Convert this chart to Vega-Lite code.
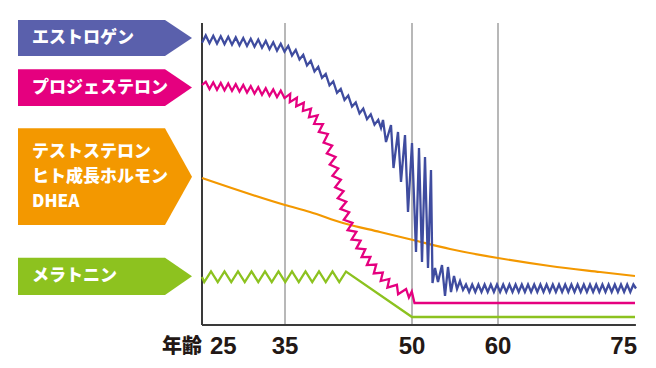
{
  "$schema": "https://vega.github.io/schema/vega-lite/v6.json",
  "padding": {"left": 0, "top": 15, "right": 0, "bottom": 0},
  "background": "white",
  "spacing": 0,
  "bounds": "flush",
  "config": {"view": {"stroke": null}},
  "datasets": {
    "boxes": [
      {"name": "エストロゲン", "bx": 18, "top": 305, "bottom": 269},
      {"name": "エストロゲン", "bx": 165, "top": 305, "bottom": 269},
      {"name": "エストロゲン", "bx": 192, "top": 287, "bottom": 287},
      {"name": "プロジェステロン", "bx": 18, "top": 255.7, "bottom": 219},
      {"name": "プロジェステロン", "bx": 165, "top": 255.7, "bottom": 219},
      {"name": "プロジェステロン", "bx": 192, "top": 237.4, "bottom": 237.4},
      {"name": "テストステロン・ヒト成長ホルモン・DHEA", "bx": 18, "top": 196.7, "bottom": 100},
      {"name": "テストステロン・ヒト成長ホルモン・DHEA", "bx": 165, "top": 196.7, "bottom": 100},
      {"name": "テストステロン・ヒト成長ホルモン・DHEA", "bx": 192, "top": 148.3, "bottom": 148.3},
      {"name": "メラトニン", "bx": 18, "top": 67.3, "bottom": 30},
      {"name": "メラトニン", "bx": 165, "top": 67.3, "bottom": 30},
      {"name": "メラトニン", "bx": 192, "top": 48.7, "bottom": 48.7}
    ],
    "labels": [
      {"text": "エストロゲン", "level": 287},
      {"text": "プロジェステロン", "level": 237.4},
      {"text": "テストステロン", "level": 173.5},
      {"text": "ヒト成長ホルモン", "level": 148.5},
      {"text": "DHEA", "level": 123.5},
      {"text": "メラトニン", "level": 49.5}
    ],
    "ticks": [
      {"age": 25, "t": "25"}, {"age": 35, "t": "35"}, {"age": 50, "t": "50"}, {"age": 60, "t": "60"}, {"age": 75, "t": "75"}
    ],
    "estrogen": [
      {"age":25.000,"level":282.2},{"age":25.452,"level":289.6},{"age":25.904,"level":281.8},{"age":26.355,"level":289.2},{"age":26.807,"level":281.4},{"age":27.259,"level":288.7},{"age":27.711,"level":280.9},{"age":28.163,"level":288.2},{"age":28.614,"level":280.3},{"age":29.066,"level":287.6},{"age":29.518,"level":279.7},{"age":29.970,"level":287.0},{"age":30.422,"level":279.0},{"age":30.873,"level":286.2},{"age":31.325,"level":278.3},{"age":31.777,"level":285.5},{"age":32.229,"level":277.3},{"age":32.681,"level":284.1},{"age":33.133,"level":275.8},{"age":33.584,"level":282.7},{"age":34.036,"level":274.4},{"age":34.488,"level":281.3},{"age":34.940,"level":273.3},{"age":35.384,"level":279.1},{"age":35.827,"level":269.5},{"age":36.270,"level":275.1},{"age":36.713,"level":265.5},{"age":37.155,"level":270.2},{"age":37.598,"level":259.6},{"age":38.041,"level":264.2},{"age":38.484,"level":253.6},{"age":38.927,"level":258.2},{"age":39.370,"level":247.2},{"age":39.813,"level":251.0},{"age":40.256,"level":239.7},{"age":40.699,"level":243.5},{"age":41.142,"level":232.2},{"age":41.585,"level":236.1},{"age":42.028,"level":225.1},{"age":42.470,"level":229.4},{"age":42.913,"level":218.4},{"age":43.356,"level":222.6},{"age":43.799,"level":211.6},{"age":44.242,"level":216.4},{"age":44.685,"level":205.9},{"age":45.128,"level":210.7},{"age":45.571,"level":200.3},{"age":46.014,"level":205.1},
      {"age":46.339,"level":197},{"age":46.575,"level":205},{"age":46.929,"level":183},{"age":47.520,"level":200},{"age":47.815,"level":157},{"age":48.346,"level":193},{"age":48.701,"level":143},{"age":49.173,"level":190},{"age":49.528,"level":113},{"age":50.000,"level":182},{"age":50.465,"level":73},{"age":50.814,"level":177},{"age":51.163,"level":63},{"age":51.512,"level":168},{"age":51.860,"level":57},{"age":52.209,"level":155},{"age":52.384,"level":42},{"age":52.674,"level":57},{"age":53.023,"level":43},{"age":53.488,"level":60},{"age":53.837,"level":29},{"age":54.186,"level":58},{"age":54.535,"level":33},{"age":54.884,"level":49},{"age":55.233,"level":36},{"age":55.581,"level":44},{"age":55.930,"level":35},
      {"age":56.279,"level":40.5},{"age":56.640,"level":33},{"age":57.000,"level":40.5},{"age":57.361,"level":33},{"age":57.721,"level":40.5},{"age":58.081,"level":33},{"age":58.442,"level":40.5},{"age":58.802,"level":33},{"age":59.163,"level":40.5},{"age":59.523,"level":33},{"age":59.884,"level":40.5},{"age":60.230,"level":33},{"age":60.569,"level":40.5},{"age":60.909,"level":33},{"age":61.248,"level":40.5},{"age":61.588,"level":33},{"age":61.927,"level":40.5},{"age":62.266,"level":33},{"age":62.606,"level":40.5},{"age":62.945,"level":33},{"age":63.285,"level":40.5},{"age":63.624,"level":33},{"age":63.964,"level":40.5},{"age":64.303,"level":33},{"age":64.642,"level":40.5},{"age":64.982,"level":33},{"age":65.321,"level":40.5},{"age":65.661,"level":33},{"age":66.000,"level":40.5},{"age":66.339,"level":33},{"age":66.679,"level":40.5},{"age":67.018,"level":33},{"age":67.358,"level":40.5},{"age":67.697,"level":33},{"age":68.037,"level":40.5},{"age":68.376,"level":33},{"age":68.715,"level":40.5},{"age":69.055,"level":33},{"age":69.394,"level":40.5},{"age":69.734,"level":33},{"age":70.073,"level":40.5},{"age":70.413,"level":33},{"age":70.752,"level":40.5},{"age":71.091,"level":33},{"age":71.431,"level":40.5},{"age":71.770,"level":33},{"age":72.110,"level":40.5},{"age":72.449,"level":33},{"age":72.788,"level":40.5},{"age":73.128,"level":33},{"age":73.467,"level":40.5},{"age":73.807,"level":33},{"age":74.146,"level":40.5},{"age":74.486,"level":33},{"age":74.825,"level":40.5},{"age":75.110,"level":36.5}
    ],
    "progesterone": [
      {"age":25.000,"level":240.0},{"age":25.452,"level":243.2},{"age":25.904,"level":235.9},{"age":26.355,"level":242.6},{"age":26.807,"level":235.3},{"age":27.259,"level":242.0},{"age":27.711,"level":234.7},{"age":28.163,"level":241.5},{"age":28.614,"level":234.1},{"age":29.066,"level":240.8},{"age":29.518,"level":233.5},{"age":29.970,"level":240.0},{"age":30.422,"level":232.5},{"age":30.873,"level":238.9},{"age":31.325,"level":231.4},{"age":31.777,"level":237.8},{"age":32.229,"level":230.2},{"age":32.681,"level":236.7},{"age":33.133,"level":229.1},{"age":33.584,"level":235.6},{"age":34.036,"level":228.0},{"age":34.488,"level":234.4},{"age":34.940,"level":226.9},
      {"age":35.614,"level":231.2},{"age":35.567,"level":222.8},{"age":36.406,"level":227.2},{"age":36.323,"level":218.6},{"age":37.220,"level":222.4},{"age":37.114,"level":214.0},{"age":38.071,"level":216.3},{"age":37.835,"level":207.7},{"age":38.850,"level":209.6},{"age":38.437,"level":201.1},{"age":39.476,"level":200.9},{"age":38.992,"level":193.1},{"age":40.067,"level":191.0},{"age":39.559,"level":182.5},{"age":40.575,"level":179.4},{"age":39.937,"level":171.6},{"age":40.976,"level":168.0},{"age":40.280,"level":160.5},{"age":41.295,"level":156.5},{"age":40.598,"level":149.2},{"age":41.602,"level":145.2},{"age":40.917,"level":137.8},{"age":41.921,"level":133.8},{"age":41.224,"level":126.8},{"age":42.240,"level":123.2},{"age":41.543,"level":116.1},{"age":42.583,"level":112.8},{"age":41.945,"level":105.2},{"age":42.972,"level":102.1},{"age":42.394,"level":94.9},{"age":43.433,"level":93.1},{"age":42.866,"level":85.5},{"age":43.929,"level":84.4},{"age":43.433,"level":76.6},{"age":44.484,"level":75.7},{"age":44.047,"level":67.9},{"age":45.087,"level":68.0},{"age":44.673,"level":59.9},{"age":45.772,"level":60.4},{"age":45.488,"level":51.6},{"age":46.551,"level":52.4},{"age":46.303,"level":44.0},{"age":47.319,"level":46.0},{"age":47.094,"level":37.4},{"age":48.217,"level":40.2},{"age":48.358,"level":30.8},{"age":49.303,"level":36.0},{"age":49.634,"level":27.5},{"age":49.976,"level":33.5},{"age":50.291,"level":22},{"age":75.0,"level":22}
    ],
    "testosterone": [
      {"age":25,"level":147},{"age":35,"level":120},{"age":37.953,"level":113},{"age":41.850,"level":102},{"age":46.220,"level":93},{"age":50.116,"level":85},{"age":54.419,"level":76},{"age":60,"level":67},{"age":65.693,"level":59},{"age":71.168,"level":53},{"age":75,"level":49}
    ],
    "melatonin": [
      {"age":25.000,"level":48},{"age":25.271,"level":43},{"age":26.084,"level":53.5},{"age":26.898,"level":43},{"age":27.711,"level":53.5},{"age":28.524,"level":43},{"age":29.337,"level":53.5},{"age":30.151,"level":43},{"age":30.964,"level":53.5},{"age":31.777,"level":43},{"age":32.590,"level":53.5},{"age":33.404,"level":43},{"age":34.217,"level":53.5},{"age":35.030,"level":43},{"age":35.827,"level":53.5},{"age":36.624,"level":43},{"age":37.421,"level":53.5},{"age":38.218,"level":43},{"age":39.016,"level":53.5},{"age":39.813,"level":43},{"age":40.610,"level":53.5},{"age":41.407,"level":43},{"age":42.205,"level":53.5},{"age":50.000,"level":8},{"age":75.000,"level":8}
    ]
  },
  "hconcat": [
    {
      "width": 202,
      "height": 310,
      "layer": [
        {
          "data": {"name": "boxes"},
          "mark": {"type": "area", "interpolate": "linear"},
          "encoding": {
            "x": {"field": "bx", "type": "quantitative", "scale": {"domain": [0, 202], "nice": false, "zero": false}, "axis": null},
            "y": {"field": "top", "type": "quantitative", "stack": null, "scale": {"domain": [0, 310], "nice": false, "zero": false}, "axis": null},
            "y2": {"field": "bottom"},
            "color": {"field": "name", "type": "nominal", "legend": null,
              "scale": {"domain": ["エストロゲン", "プロジェステロン", "テストステロン・ヒト成長ホルモン・DHEA", "メラトニン"], "range": ["#5a60ac", "#e5007f", "#f39800", "#8dc21f"]}}
          }
        },
        {
          "data": {"name": "labels"},
          "mark": {"type": "text", "align": "left", "baseline": "middle", "font": "Noto Sans CJK JP", "fontWeight": 900, "fontSize": 17, "color": "#ffffff"},
          "encoding": {
            "x": {"datum": 32, "type": "quantitative"},
            "y": {"field": "level", "type": "quantitative"},
            "text": {"field": "text"}
          }
        },
        {
          "data": {"values": [{"t": "年齢"}]},
          "mark": {"type": "text", "align": "right", "baseline": "middle", "font": "Noto Sans CJK JP", "fontWeight": 900, "fontSize": 20, "color": "#231815"},
          "encoding": {
            "x": {"datum": 202, "type": "quantitative"},
            "y": {"datum": -22, "type": "quantitative"},
            "text": {"field": "t"}
          }
        }
      ]
    },
    {
      "width": 454,
      "height": 310,
      "layer": [
        {
          "data": {"values": [{"age": 35}, {"age": 50}, {"age": 60}]},
          "mark": {"type": "rule", "color": "#a0a0a0", "strokeWidth": 1.5},
          "encoding": {
            "x": {"field": "age", "type": "quantitative", "axis": null, "scale": {"type": "linear", "domain": [25, 35, 50, 60, 75], "range": [0, 83, 210, 296, 433], "nice": false, "zero": false}},
            "y": {"datum": 0, "type": "quantitative", "axis": null, "scale": {"domain": [0, 310], "nice": false, "zero": false}},
            "y2": {"datum": 302}
          }
        },
        {
          "data": {"values": [{"age": 25}]},
          "mark": {"type": "rule", "color": "#3a3a3a", "strokeWidth": 2},
          "encoding": {
            "x": {"field": "age", "type": "quantitative", "axis": null, "scale": {"type": "linear", "domain": [25, 35, 50, 60, 75], "range": [0, 83, 210, 296, 433], "nice": false, "zero": false}},
            "y": {"datum": 0, "type": "quantitative", "axis": null, "scale": {"domain": [0, 310], "nice": false, "zero": false}},
            "y2": {"datum": 302}
          }
        },
        {
          "data": {"values": [{"age": 25, "level": 0}]},
          "mark": {"type": "rule", "color": "#3a3a3a", "strokeWidth": 2},
          "encoding": {
            "x": {"field": "age", "type": "quantitative", "axis": null, "scale": {"type": "linear", "domain": [25, 35, 50, 60, 75], "range": [0, 83, 210, 296, 433], "nice": false, "zero": false}},
            "x2": {"datum": 75.1},
            "y": {"field": "level", "type": "quantitative", "axis": null, "scale": {"domain": [0, 310], "nice": false, "zero": false}}
          }
        },
        {
          "data": {"name": "testosterone"},
          "mark": {"type": "line", "color": "#f39800", "strokeWidth": 2.2, "interpolate": "monotone"},
          "encoding": {
            "x": {"field": "age", "type": "quantitative", "axis": null, "scale": {"type": "linear", "domain": [25, 35, 50, 60, 75], "range": [0, 83, 210, 296, 433], "nice": false, "zero": false}},
            "y": {"field": "level", "type": "quantitative", "axis": null, "scale": {"domain": [0, 310], "nice": false, "zero": false}}
          }
        },
        {
          "data": {"name": "melatonin"},
          "mark": {"type": "line", "color": "#8cc21f", "strokeWidth": 2.3, "strokeMiterLimit": 4},
          "encoding": {
            "x": {"field": "age", "type": "quantitative", "axis": null, "scale": {"type": "linear", "domain": [25, 35, 50, 60, 75], "range": [0, 83, 210, 296, 433], "nice": false, "zero": false}},
            "y": {"field": "level", "type": "quantitative", "axis": null, "scale": {"domain": [0, 310], "nice": false, "zero": false}},
            "order": {"value": null}
          }
        },
        {
          "data": {"name": "progesterone"},
          "mark": {"type": "line", "color": "#e5007f", "strokeWidth": 2.3, "strokeMiterLimit": 4},
          "encoding": {
            "x": {"field": "age", "type": "quantitative", "axis": null, "scale": {"type": "linear", "domain": [25, 35, 50, 60, 75], "range": [0, 83, 210, 296, 433], "nice": false, "zero": false}},
            "y": {"field": "level", "type": "quantitative", "axis": null, "scale": {"domain": [0, 310], "nice": false, "zero": false}},
            "order": {"value": null}
          }
        },
        {
          "data": {"name": "estrogen"},
          "mark": {"type": "line", "color": "#3f4c9f", "strokeWidth": 2.3, "strokeMiterLimit": 4},
          "encoding": {
            "x": {"field": "age", "type": "quantitative", "axis": null, "scale": {"type": "linear", "domain": [25, 35, 50, 60, 75], "range": [0, 83, 210, 296, 433], "nice": false, "zero": false}},
            "y": {"field": "level", "type": "quantitative", "axis": null, "scale": {"domain": [0, 310], "nice": false, "zero": false}},
            "order": {"value": null}
          }
        },
        {
          "data": {"name": "ticks"},
          "mark": {"type": "text", "baseline": "middle", "font": "Liberation Sans", "fontWeight": "bold", "fontSize": 24, "color": "#231815",
            "align": {"expr": "datum.age == 25 ? 'left' : datum.age == 75 ? 'right' : 'center'"},
            "dx": {"expr": "datum.age == 25 ? 8 : datum.age == 75 ? 2 : 0"}},
          "encoding": {
            "x": {"field": "age", "type": "quantitative", "axis": null, "scale": {"type": "linear", "domain": [25, 35, 50, 60, 75], "range": [0, 83, 210, 296, 433], "nice": false, "zero": false}},
            "y": {"datum": -22, "type": "quantitative", "axis": null, "scale": {"domain": [0, 310], "nice": false, "zero": false}},
            "text": {"field": "t"}
          }
        }
      ]
    }
  ]
}
